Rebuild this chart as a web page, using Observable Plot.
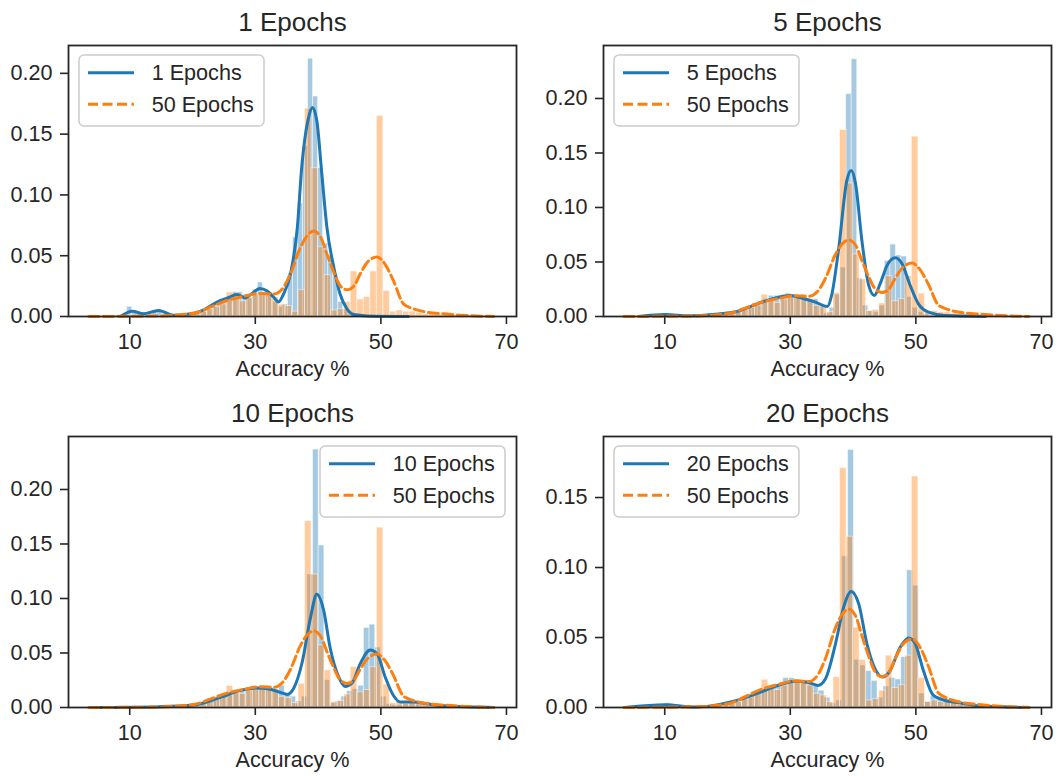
<!DOCTYPE html>
<html>
<head>
<meta charset="utf-8">
<script src="https://cdn.jsdelivr.net/npm/d3@7"></script>
<script src="https://cdn.jsdelivr.net/npm/@observablehq/plot@0.6"></script>
<style>
  html, body { margin: 0; padding: 0; background: #fff; }
  #fig { position: relative; width: 1059px; height: 776px; overflow: hidden; background: #fff;
         font-family: "Liberation Sans", Arial, sans-serif; color: #262626; }
  .panel { position: absolute; }
  .legend { position: absolute; overflow: visible; }
</style>
</head>
<body>
<div id="fig"></div>
<script>
// ---------------- data ----------------
const xTicks = [10, 30, 50, 70];
const xLabel = "Accuracy %";
const panelTitles = ["1 Epochs", "5 Epochs", "10 Epochs", "20 Epochs"];
const refLabel = "50 Epochs";

// 50 epochs histogram (reference, orange) - density per bin
const binStart50 = 3.6, binWidth50 = 1.04;
const hist50 = [0.001, 0, 0.001, 0.001, 0.0005, 0.0005, 0.001, 0.0005, 0.0005, 0.001,
  0.0005, 0.001, 0.001, 0.0015, 0.002, 0.002, 0.003, 0.004, 0.006, 0.008,
  0.010, 0.0198, 0.0146, 0.0125, 0.0157, 0.018, 0.0198, 0.0198, 0.0157, 0.0098,
  0.0086, 0.004, 0.0217, 0.171, 0.122, 0.057, 0.034, 0.005, 0.006, 0.012,
  0.037, 0.014, 0.016, 0.037, 0.165, 0.021, 0.004, 0.005, 0.004, 0.004,
  0.003, 0.002, 0.002, 0.002, 0.001, 0.001, 0.001, 0.001, 0.001, 0.0005,
  0.0005, 0.001];

// 1 epoch histogram (blue)
const binStart1 = 9.6, binWidth1 = 0.8;
const hist1 = [0.008, 0.003, 0.002, 0.003, 0.004, 0.005, 0.004, 0.002, 0.002, 0.001,
  0.002, 0.002, 0.002, 0.002, 0.003, 0.004, 0.006, 0.010, 0.012, 0.015,
  0.016, 0.020, 0.020, 0.018, 0.015, 0.022, 0.028, 0.020, 0.018, 0.012,
  0.008, 0.010, 0.0355, 0.065, 0.093, 0.14, 0.212, 0.181, 0.122, 0.060,
  0.050, 0.035, 0.012, 0.006, 0.002];

// 5 epochs histogram (blue)
const binStart5 = 9.86, binWidth5 = 0.88;
const hist5 = [0.002, 0.001, 0.001, 0.0005, 0.001, 0.001, 0.0015, 0.002, 0.002, 0.0025,
  0.003, 0.003, 0.004, 0.005, 0.007, 0.009, 0.012, 0.014, 0.016, 0.019,
  0.019, 0.018, 0.021, 0.020, 0.018, 0.017, 0.016, 0.016, 0.010, 0.003,
  0.008, 0.020, 0.045, 0.204, 0.236, 0.035, 0.010, 0.005, 0.004, 0.010,
  0.051, 0.066, 0.056, 0.055, 0.018, 0.008, 0.004, 0.002, 0.001, 0.001,
  0.001, 0.0005, 0.0005];

// 10 epochs histogram (blue)
const binStart10 = 4.1, binWidth10 = 0.9;
const hist10 = [0.0005, 0, 0.0005, 0, 0.0005, 0.0005, 0.0005, 0.001, 0.0005, 0.001,
  0.001, 0.001, 0.0015, 0.0015, 0.002, 0.002, 0.002, 0.003, 0.003, 0.004,
  0.005, 0.006, 0.008, 0.010, 0.011, 0.013, 0.015, 0.016, 0.017, 0.018,
  0.019, 0.018, 0.017, 0.020, 0.013, 0.010, 0.0055, 0.010, 0.122, 0.2366,
  0.1486, 0.025, 0.004, 0.006, 0.010, 0.015, 0.017, 0.020, 0.073, 0.076,
  0.055, 0.010, 0.003, 0.002, 0.002, 0.003, 0.005, 0.005, 0.004, 0.002,
  0.001, 0.001, 0.001, 0.0005, 0.0005];

// 20 epochs histogram (blue)
const binStart20 = 4.42, binWidth20 = 0.94;
const hist20 = [0.0005, 0, 0.0005, 0.0005, 0.001, 0.002, 0.003, 0.001, 0.0005, 0.0005,
  0.0005, 0.001, 0.001, 0.001, 0.0015, 0.0015, 0.002, 0.003, 0.004, 0.006,
  0.007, 0.009, 0.011, 0.013, 0.016, 0.015, 0.021, 0.021, 0.020, 0.019,
  0.017, 0.015, 0.012, 0.007, 0.003, 0.005, 0.108, 0.184, 0.034, 0.030,
  0.026, 0.019, 0.007, 0.015, 0.021, 0.020, 0.036, 0.098, 0.087, 0.010,
  0.004, 0.008, 0.006, 0.004, 0.004, 0.003, 0.002, 0.001, 0.001, 0.0005,
  0.0005];

// KDE curves
const kdeX50 = [3.5, 14.9, 20.2, 22.8, 25.5, 28.1, 30.8, 32.9, 34.3, 35.6, 37.2, 38.5, 39.3, 40.4, 41.4, 42.5, 43.5, 44.6, 45.7, 46.7, 48.1, 49.4, 50.7, 52.0, 53.6, 55.2, 57.3, 60.0, 62.7, 68.0];
const kdeY50 = [0, 0.0005, 0.0027, 0.0077, 0.0132, 0.0165, 0.019, 0.0185, 0.0227, 0.035, 0.057, 0.068, 0.0703, 0.0654, 0.0514, 0.0364, 0.0255, 0.022, 0.025, 0.035, 0.046, 0.049, 0.0427, 0.0295, 0.0104, 0.0063, 0.0036, 0.0022, 0.0011, 0];

const kdeX1 = [8.5, 10.4, 12.2, 14.6, 17.0, 20.2, 21.8, 23.9, 25.5, 27.1, 28.4, 29.5, 30.7, 31.9, 32.9, 33.7, 34.5, 35.6, 36.7, 37.4, 38.5, 39.1, 39.8, 40.6, 41.4, 42.5, 43.5, 44.6, 45.7, 47.8, 54.4];
const kdeY1 = [0, 0.0044, 0.0022, 0.005, 0.001, 0.0027, 0.0055, 0.0118, 0.015, 0.018, 0.0153, 0.019, 0.023, 0.021, 0.016, 0.012, 0.0185, 0.035, 0.0735, 0.123, 0.164, 0.172, 0.161, 0.117, 0.0735, 0.0405, 0.0185, 0.0063, 0.0016, 0.0005, 0];

const kdeX5 = [5.9, 10.1, 13.8, 18.6, 21.3, 23.9, 26.6, 28.7, 30.0, 31.9, 34.0, 35.9, 36.6, 37.7, 39.0, 39.7, 40.4, 41.4, 42.5, 43.4, 44.3, 45.4, 46.7, 47.8, 49.1, 50.4, 52.0, 54.7, 61.1];
const kdeY5 = [0, 0.0018, 0.0006, 0.0024, 0.0043, 0.0098, 0.0153, 0.0184, 0.0193, 0.0168, 0.0132, 0.0092, 0.0199, 0.062, 0.1247, 0.134, 0.1216, 0.0697, 0.0284, 0.0193, 0.0299, 0.0467, 0.0538, 0.0483, 0.0284, 0.0116, 0.004, 0.0009, 0];

const kdeX10 = [3.7, 14.9, 20.2, 22.8, 25.5, 27.6, 30.3, 32.4, 34.0, 35.1, 36.1, 37.4, 38.8, 39.8, 40.9, 41.9, 43.3, 44.3, 45.4, 46.7, 48.3, 49.4, 50.7, 52.0, 53.1, 55.2, 57.3, 60.0, 68.0];
const kdeY10 = [0, 0.0008, 0.0023, 0.006, 0.0115, 0.0157, 0.018, 0.0168, 0.0138, 0.012, 0.0174, 0.0399, 0.0827, 0.104, 0.0889, 0.0553, 0.0278, 0.0193, 0.0223, 0.040, 0.0528, 0.0492, 0.0278, 0.011, 0.005, 0.005, 0.0034, 0.0015, 0];

const kdeX20 = [3.7, 10.1, 14.9, 19.1, 22.3, 25.5, 28.1, 30.8, 32.9, 34.4, 35.6, 37.2, 38.5, 39.7, 40.9, 42.2, 43.5, 44.7, 45.9, 47.5, 48.9, 49.9, 51.2, 52.8, 54.7, 57.3, 60.0, 68.0];
const kdeY20 = [0, 0.0019, 0.0003, 0.0026, 0.0062, 0.0114, 0.0159, 0.0188, 0.0179, 0.0157, 0.0205, 0.0455, 0.0717, 0.0829, 0.074, 0.0455, 0.0276, 0.0217, 0.0264, 0.0431, 0.0497, 0.0455, 0.0264, 0.0086, 0.005, 0.0031, 0.0012, 0];

const yMax = [0.2229, 0.2486, 0.2486, 0.1936];
const yTicksA = [0, 0.05, 0.10, 0.15, 0.20];
const yTicksB = [0, 0.05, 0.10, 0.15];

// ---------------- helpers ----------------
const BLUE = "#1f77b4", ORANGE = "#ff7f0e", INK = "#262626";
const FONT = "'Liberation Sans', Arial, sans-serif";
const DASH = "10,4.5";

function bins(start, width, hs) {
  return hs.map((h, i) => ({x1: start + i * width, x2: start + (i + 1) * width, h}));
}
function curvePts(xs, ys) { return xs.map((x, i) => ({x, y: ys[i]})); }

const bars50 = bins(binStart50, binWidth50, hist50);
const kde50 = curvePts(kdeX50, kdeY50);

const panels = [
  {title: panelTitles[0], bars: bins(binStart1, binWidth1, hist1), kde: curvePts(kdeX1, kdeY1), ymax: yMax[0], ticks: yTicksA,
   left: 0, top: 0, w: 530, h: 390, mr: 14, mb: 74, legL: 78, legT: 54},
  {title: panelTitles[1], bars: bins(binStart5, binWidth5, hist5), kde: curvePts(kdeX5, kdeY5), ymax: yMax[1], ticks: yTicksA,
   left: 535, top: 0, w: 524, h: 390, mr: 8, mb: 74, legL: 613, legT: 54},
  {title: panelTitles[2], bars: bins(binStart10, binWidth10, hist10), kde: curvePts(kdeX10, kdeY10), ymax: yMax[2], ticks: yTicksA,
   left: 0, top: 391, w: 530, h: 385, mr: 14, mb: 69, legL: 319, legT: 445},
  {title: panelTitles[3], bars: bins(binStart20, binWidth20, hist20), kde: curvePts(kdeX20, kdeY20), ymax: yMax[3], ticks: yTicksB,
   left: 535, top: 391, w: 524, h: 385, mr: 8, mb: 69, legL: 613, legT: 445}
];

const fig = document.getElementById("fig");

for (const p of panels) {
  const chart = Plot.plot({
    width: p.w, height: p.h,
    marginLeft: 68, marginRight: p.mr, marginTop: 45, marginBottom: p.mb,
    style: {fontFamily: FONT, fontSize: "21.6px", color: INK, background: "transparent", overflow: "visible"},
    x: {domain: [0.25, 71.6]},
    y: {domain: [0, p.ymax]},
    marks: [
      Plot.rect(p.bars, {x1: "x1", x2: "x2", y1: 0, y2: "h", fill: BLUE, fillOpacity: 0.4, stroke: "white", strokeOpacity: 0.5, strokeWidth: 1}),
      Plot.rect(bars50, {x1: "x1", x2: "x2", y1: 0, y2: "h", fill: ORANGE, fillOpacity: 0.4, stroke: "white", strokeOpacity: 0.5, strokeWidth: 1}),
      Plot.line(p.kde, {x: "x", y: "y", stroke: BLUE, strokeWidth: 3, curve: "monotone-x"}),
      Plot.line(kde50, {x: "x", y: "y", stroke: ORANGE, strokeWidth: 3, strokeDasharray: DASH, curve: "monotone-x"}),
      Plot.frame({stroke: INK, strokeWidth: 1.8}),
      Plot.axisX({ticks: xTicks, tickSize: 8, tickPadding: 9, label: null, strokeWidth: 1.6, fontSize: 21.6}),
      Plot.axisY({ticks: p.ticks, tickSize: 8, tickPadding: 8, tickFormat: ".2f", label: null, strokeWidth: 1.6, fontSize: 21.6}),
      Plot.text([p.title], {frameAnchor: "top", text: d => d, dy: -22.5, fontSize: 26, lineAnchor: "middle", fill: INK}),
      Plot.text([xLabel], {frameAnchor: "bottom", text: d => d, dy: 53, fontSize: 21.6, lineAnchor: "middle", fill: INK})
    ]
  });
  const holder = document.createElement("div");
  holder.className = "panel";
  holder.style.left = p.left + "px";
  holder.style.top = p.top + "px";
  holder.appendChild(chart);
  fig.appendChild(holder);

  // legend
  const ns = "http://www.w3.org/2000/svg";
  const leg = document.createElementNS(ns, "svg");
  leg.setAttribute("class", "legend");
  leg.setAttribute("width", 188);
  leg.setAttribute("height", 74);
  leg.style.left = p.legL + "px";
  leg.style.top = p.legT + "px";
  leg.innerHTML =
    `<rect x="1" y="1" width="185" height="71" rx="5" fill="white" fill-opacity="0.8" stroke="#cccccc" stroke-width="1.5"/>` +
    `<line x1="10" x2="56" y1="18.7" y2="18.7" stroke="${BLUE}" stroke-width="3"/>` +
    `<line x1="10" x2="56" y1="50.3" y2="50.3" stroke="${ORANGE}" stroke-width="3" stroke-dasharray="${DASH}"/>` +
    `<text x="73.7" y="18.7" dominant-baseline="central" font-family="${FONT}" font-size="21.6" fill="${INK}">${p.title}</text>` +
    `<text x="73.7" y="50.3" dominant-baseline="central" font-family="${FONT}" font-size="21.6" fill="${INK}">${refLabel}</text>`;
  fig.appendChild(leg);
}
</script>
</body>
</html>
